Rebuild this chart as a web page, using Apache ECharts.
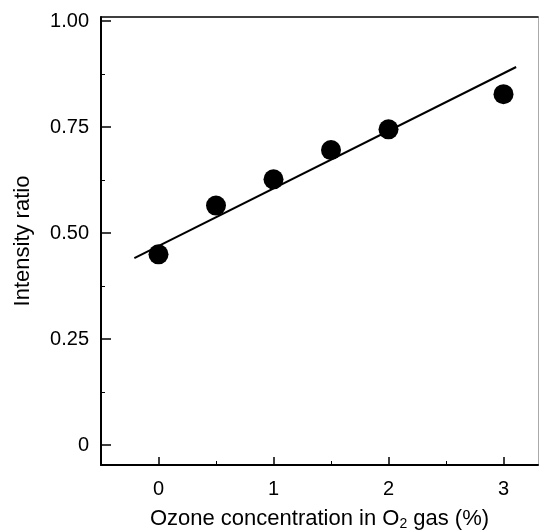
<!DOCTYPE html>
<html>
<head>
<meta charset="utf-8">
<script src="https://cdn.jsdelivr.net/npm/echarts@6/dist/echarts.min.js"></script>
<style>html,body{margin:0;padding:0;background:#fff}#c{width:539px;height:530px}</style>
</head>
<body>
<div id="c"></div>
<script>
const ozone = [0, 0.5, 1, 1.5, 2, 3];
const intensity = [0.45, 0.565, 0.627, 0.696, 0.745, 0.828];
const fitX = [-0.21, 3.11];
const fitY = [0.441, 0.892];
const xMajorTicks = [0, 1, 2, 3];
const xMinorTicks = [0.5, 1.5, 2.5];
const yMajorTicks = [0, 0.25, 0.5, 0.75, 1.0];
const yMinorTicks = [0.125, 0.375, 0.625, 0.875];

const font = 'Liberation Sans, Arial, sans-serif';
const chart = echarts.init(document.getElementById('c'));
const xRange = {min: -0.5, max: 3.3};
const yRange = {min: -0.047, max: 1.01};
chart.setOption({
  animation: false,
  grid: {left: 101, top: 17, right: 1, bottom: 65, outerBoundsMode: 'none', containLabel: false},
  xAxis: [
    {type: 'value', ...xRange, position: 'bottom',
     axisLine: {show: true, onZero: false, lineStyle: {color: '#000', width: 2}},
     axisTick: {show: true, inside: true, length: 8, customValues: xMajorTicks, lineStyle: {color: '#000', width: 1.5}},
     axisLabel: {customValues: xMajorTicks, color: '#000', fontSize: 20, fontFamily: font, margin: 14},
     splitLine: {show: false},
     name: '{a|Ozone concentration in O}{s|2}{a| gas (%)}',
     nameLocation: 'middle', nameGap: 42,
     nameTextStyle: {rich: {a: {fontSize: 22, fontFamily: font, color: '#000'}, s: {fontSize: 14, fontFamily: font, color: '#000', padding: [10, 0, 0, 0]}}}
    },
    {type: 'value', ...xRange, position: 'bottom',
     axisLine: {show: false, onZero: false},
     axisTick: {show: true, inside: true, length: 4, customValues: xMinorTicks, lineStyle: {color: '#000', width: 1}},
     axisLabel: {show: false}, splitLine: {show: false}},
    {type: 'value', ...xRange, position: 'top',
     axisLine: {show: true, onZero: false, lineStyle: {color: '#000', width: 1.5}},
     axisTick: {show: false}, axisLabel: {show: false}, splitLine: {show: false}}
  ],
  yAxis: [
    {type: 'value', ...yRange, position: 'left',
     axisLine: {show: true, onZero: false, lineStyle: {color: '#000', width: 2}},
     axisTick: {show: true, inside: true, length: 10, customValues: yMajorTicks, lineStyle: {color: '#000', width: 1.5}},
     axisLabel: {customValues: yMajorTicks, color: '#000', fontSize: 20, fontFamily: font, margin: 12,
       formatter: v => v === 0 ? '0' : v.toFixed(2)},
     splitLine: {show: false},
     name: 'Intensity ratio', nameLocation: 'middle', nameGap: 67,
     nameTextStyle: {fontSize: 22, fontFamily: font, color: '#000'}
    },
    {type: 'value', ...yRange, position: 'left',
     axisLine: {show: false, onZero: false},
     axisTick: {show: true, inside: true, length: 4, customValues: yMinorTicks, lineStyle: {color: '#000', width: 1}},
     axisLabel: {show: false}, splitLine: {show: false}},
    {type: 'value', ...yRange, position: 'right',
     axisLine: {show: true, onZero: false, lineStyle: {color: '#aaa', width: 1}},
     axisTick: {show: false}, axisLabel: {show: false}, splitLine: {show: false}}
  ],
  series: [
    {type: 'line', xAxisIndex: 0, yAxisIndex: 0,
     data: fitX.map((x, i) => [x, fitY[i]]),
     showSymbol: false, symbol: 'none', lineStyle: {color: '#000', width: 2}},
    {type: 'scatter', xAxisIndex: 0, yAxisIndex: 0,
     data: ozone.map((x, i) => [x, intensity[i]]),
     symbol: 'circle', symbolSize: 20, itemStyle: {color: '#000', opacity: 1}}
  ]
});
</script>
</body>
</html>
